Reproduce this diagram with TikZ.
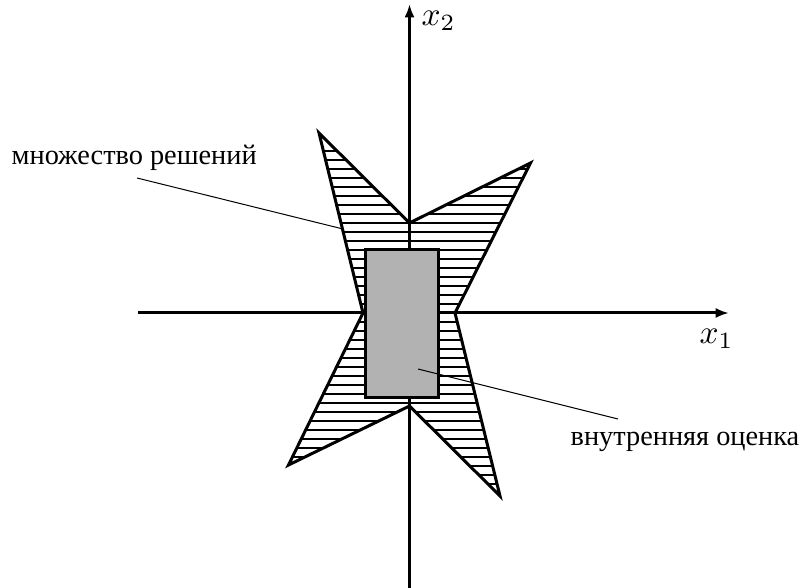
\documentclass[tikz,border=0pt]{standalone}
\usepackage{fontspec}
\newfontfamily\cyr{Liberation Serif}
\usetikzlibrary{arrows.meta}
\begin{document}
\begin{tikzpicture}[x=0.3pt,y=-0.3pt,
  axis/.style={line width=0.9pt,-{Latex[length=4pt,width=3pt]}},
  edge/.style={line width=0.9pt,line join=miter},
  hatch/.style={line width=0.8pt},
  leader/.style={line width=0.3pt},
  lbl/.style={font=\cyr\fontsize{8.5}{10}\selectfont,inner sep=0pt,anchor=base west}]
\useasboundingbox (0,0) rectangle (804,588);
% vertices
\coordinate (p1) at (319,133);
\coordinate (p2) at (409.5,223);
\coordinate (p3) at (530.5,163);
\coordinate (p4) at (455,313);
\coordinate (p5) at (500,496);
\coordinate (p6) at (409.5,406);
\coordinate (p7) at (288.5,465);
\coordinate (p8) at (363,313);
% axes
\coordinate (xs) at (138,313);
\coordinate (xe) at (729,313);
\coordinate (ys) at (409.5,588);
\coordinate (ye) at (409.5,4);
\draw[axis] (xs) -- (xe);
\draw[axis] (ys) -- (ye);
\node[inner sep=0pt,anchor=base west] (x2) at (421,26) {$x_2$};
\node[inner sep=0pt,anchor=base west] (x1) at (699,344) {$x_1$};
% hatching
\begin{scope}
\clip (p1)--(p2)--(p3)--(p4)--(p5)--(p6)--(p7)--(p8)--cycle;
\foreach \yy in {0,...,40} {
  \draw[hatch] (280,151+9*\yy) -- (540,151+9*\yy);
}
\end{scope}
\draw[edge] (p1)--(p2)--(p3)--(p4)--(p5)--(p6)--(p7)--(p8)--cycle;
% inner box
\draw[line width=0.9pt,fill=black!30] (365.5,249.5) rectangle (438.5,397.5);
% labels
\node[lbl] (s1) at (11,165) {множество решений};
\node[lbl] (s2) at (570,446) {внутренняя оценка};
\coordinate (l1a) at (137,178);
\coordinate (l1b) at (343,229);
\coordinate (l2a) at (418,369);
\coordinate (l2b) at (618,419);
\draw[leader] (l1a) -- (l1b);
\draw[leader] (l2a) -- (l2b);
\end{tikzpicture}
\end{document}
